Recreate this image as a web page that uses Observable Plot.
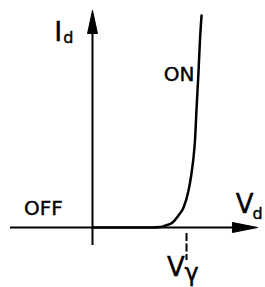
<!DOCTYPE html>
<html><head><meta charset="utf-8">
<script src="https://cdn.jsdelivr.net/npm/d3@7"></script>
<script src="https://cdn.jsdelivr.net/npm/@observablehq/plot@0.6"></script>
<style>html,body{margin:0;padding:0;background:#fff}svg{display:block}</style>
</head><body><div id="chart"></div>
<script>
// Diode I-V characteristic (Vd in volts, Id in mA, schematic)
const vd = [0.00, 0.208, 0.432, 0.506, 0.544, 0.596, 0.640, 0.678, 0.715, 0.737, 0.752, 0.763, 0.774, 0.789, 0.800, 0.812];
const id = [0.00, 0.00, 0.00, 0.05, 0.20, 0.50, 1.20, 2.00, 3.70, 5.40, 7.00, 8.70, 11.7, 15.5, 18.7, 21.2];
const vGamma = 0.7;
const xAxisExtent = [-0.611, 1.229];
const yAxisExtent = [-1.8, 21.7];
const labelTexts = ["I", "d", "V", "d", "ON", "OFF", "V", "γ"];

const curve = vd.map((v, i) => ({x: v, y: id[i]}));

// layout (not data)
const xDomain = [-0.685, 1.288];
const yDomain = [-6, 22.7];
const headLenX = 0.187, headHalfX = 0.5;   // x-axis arrowhead in data units
const headLenY = 2.3, headHalfY = 0.037;   // y-axis arrowhead in data units
const labelPos = [
  {x: -0.285, y: 18.65, size: 27},
  {x: -0.218, y: 18.45, size: 16},
  {x: 1.066, y: 1.5, size: 26},
  {x: 1.192, y: 0.9, size: 16},
  {x: 0.53, y: 14.7, size: 20},
  {x: -0.51, y: 1.3, size: 20},
  {x: 0.555, y: -4.8, size: 26},
  {x: 0.685, y: -5.3, size: 24}
];
const labels = labelTexts.map((t, i) => ({text: t, ...labelPos[i]}));

const xTip = xAxisExtent[1], yTip = yAxisExtent[1];
const xHead = [{x: xTip, y: 0}, {x: xTip - headLenX, y: headHalfX}, {x: xTip - headLenX, y: -headHalfX}, {x: xTip, y: 0}];
const yHead = [{x: 0, y: yTip}, {x: -headHalfY, y: yTip - headLenY}, {x: headHalfY, y: yTip - headLenY}, {x: 0, y: yTip}];

const chart = Plot.plot({
  width: 265, height: 287,
  marginTop: 0, marginRight: 0, marginBottom: 0, marginLeft: 0,
  style: {fontFamily: "'DejaVu Sans', sans-serif", background: "#fff"},
  x: {axis: null, domain: xDomain},
  y: {axis: null, domain: yDomain},
  marks: [
    Plot.ruleY([0], {x1: xAxisExtent[0], x2: xTip - headLenX + 0.01, stroke: "black", strokeWidth: 2}),
    Plot.ruleX([0], {y1: yAxisExtent[0], y2: yTip - headLenY + 0.1, stroke: "black", strokeWidth: 2}),
    Plot.line(xHead, {x: "x", y: "y", fill: "black", stroke: "black", strokeWidth: 1}),
    Plot.line(yHead, {x: "x", y: "y", fill: "black", stroke: "black", strokeWidth: 1}),
    Plot.line(curve, {x: "x", y: "y", stroke: "black", strokeWidth: 2.5, curve: "monotone-x"}),
    Plot.ruleX([vGamma], {y1: -0.6, y2: -3.3, stroke: "black", strokeWidth: 2, strokeDasharray: "8,2.5"}),
    ...labels.map(l => Plot.text([l], {x: "x", y: "y", text: "text", fontSize: l.size, textAnchor: "start", lineAnchor: "bottom", fill: "black", stroke: "black", strokeWidth: 0.4}))
  ]
});
document.getElementById("chart").append(chart);
</script>
</body></html>
